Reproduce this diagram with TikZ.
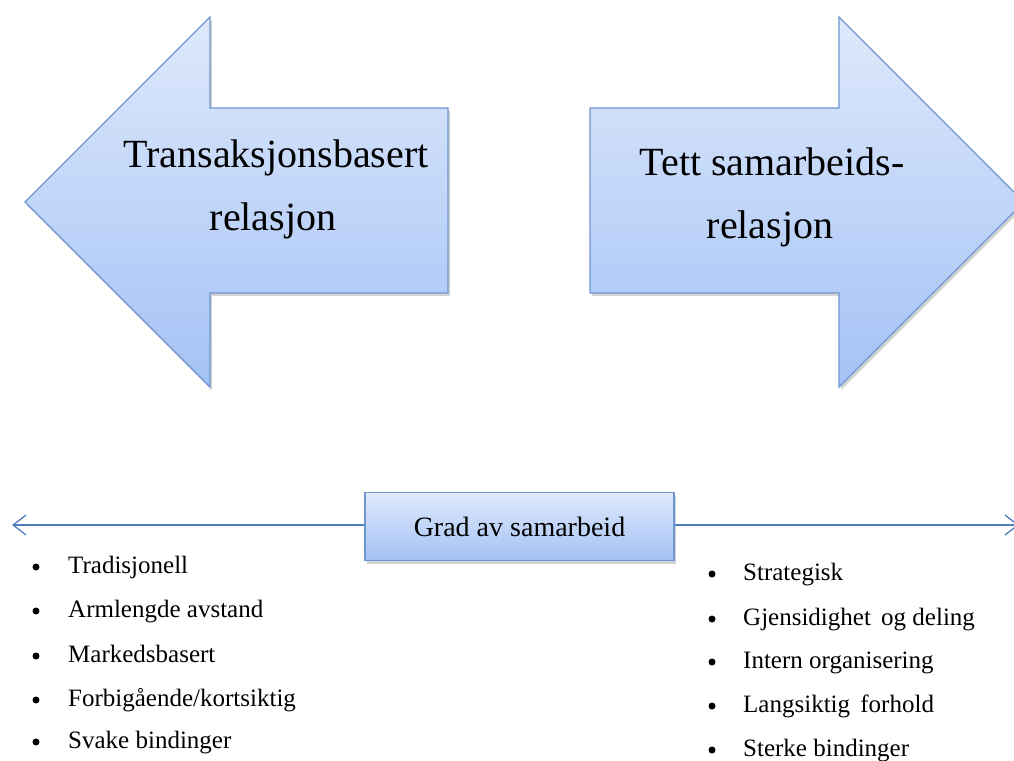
\documentclass[tikz,border=0pt]{standalone}
\usepackage{fontspec}
\setmainfont{Liberation Serif}
\usetikzlibrary{arrows.meta,shadows}
\definecolor{fillTop}{HTML}{DEE9FB}
\definecolor{fillBot}{HTML}{A4C2F6}
\definecolor{edgeBlue}{HTML}{6E96CF}
\definecolor{lineBlue}{HTML}{4F80BD}
\tikzset{
  bigarrow/.style={draw=edgeBlue, line width=1.2pt, top color=fillTop, bottom color=fillBot,
    drop shadow={opacity=0.35, shadow xshift=2pt, shadow yshift=-3pt}},
  bigtext/.style={font=\fontsize{40}{63}\selectfont, align=center, anchor=base, inner sep=0pt},
  gradbox/.style={draw=edgeBlue, line width=1.2pt, top color=fillTop, bottom color=fillBot,
    minimum width=309pt, minimum height=68pt, inner sep=0pt,
    font=\fontsize{28}{30}\selectfont,
    drop shadow={opacity=0.35, shadow xshift=2pt, shadow yshift=-3pt}},
  axisline/.style={draw=lineBlue, line width=1.3pt, -{Straight Barb[length=13pt,width=20pt,line width=1.3pt]}},
  bul/.style={circle, fill=black, inner sep=0pt, minimum size=7pt},
  item/.style={font=\fontsize{25}{27}\selectfont, anchor=base west, inner sep=0pt}
}
\begin{document}
\begin{tikzpicture}[x=1pt,y=-1pt]
\useasboundingbox (0,0) rectangle (1014,760);
\clip (0,0) rectangle (1014,760);
% big arrows
\path[bigarrow] (25,202) -- (210,17) -- (210,108) -- (448,108) -- (448,293) -- (210,293) -- (210,387) -- cycle;
\path[bigarrow] (1024,202) -- (839,17) -- (839,108) -- (590,108) -- (590,293) -- (839,293) -- (839,387) -- cycle;
\node[bigtext] (tl1) at (276,167) {Transaksjonsbasert};
\node[bigtext] (tl2) at (273,230) {relasjon};
\node[bigtext] (tr1) at (772,175) {Tett samarbeids-};
\node[bigtext] (tr2) at (770,238) {relasjon};
% axis
\node[gradbox] (box) at (519.5,526.5) {Grad av samarbeid};
\coordinate (lend) at (12,525);
\coordinate (rend) at (1019,525);
\draw[axisline] (box.west |- lend) -- (lend);
\draw[axisline] (box.east |- rend) -- (rend);
% left list
\foreach \t/\y [count=\i] in {{Tradisjonell}/573, {Armlengde avstand}/617, {Markedsbasert}/662, {Forbigående/kortsiktig}/706, {Svake bindinger}/748}{
  \node[bul] (lb\i) at (36,\y-6) {};
  \node[item] (li\i) at (68,\y) {\t};
}
% right list
\foreach \t/\y [count=\i] in {{Strategisk}/580, {Gjensidighet\hspace{4pt} og deling}/625, {Intern organisering}/668, {Langsiktig\hspace{4pt} forhold}/712, {Sterke bindinger}/756}{
  \node[bul] (rb\i) at (712,\y-6) {};
  \node[item] (ri\i) at (743,\y) {\t};
}
\end{tikzpicture}
\end{document}
